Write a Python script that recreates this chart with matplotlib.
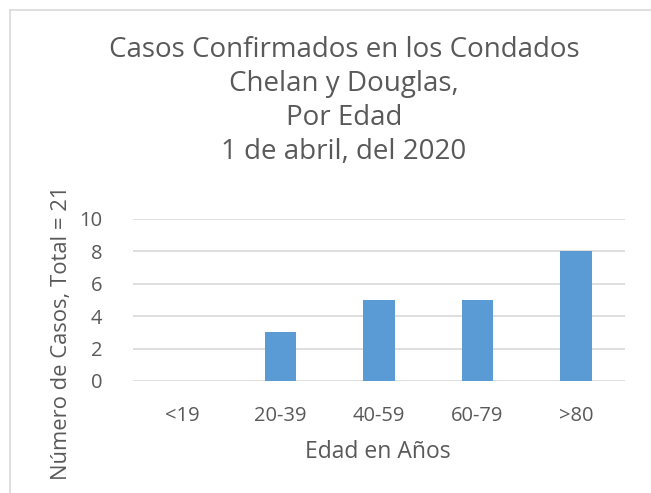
import matplotlib
matplotlib.use("Agg")
import matplotlib.pyplot as plt
from matplotlib.lines import Line2D

categories = ["<19", "20-39", "40-59", "60-79", ">80"]
values = [0, 3, 5, 5, 8]
yticks = [0, 2, 4, 6, 8, 10]
title = "Casos Confirmados en los Condados\nChelan y Douglas,\nPor Edad\n1 de abril, del 2020"
xlabel = "Edad en Años"
ylabel = "Número de Casos, Total = 21"

W, H = 651, 493
fig = plt.figure(figsize=(W / 100, H / 100), dpi=100)
plt.rcParams['font.family'] = ['Open Sans', 'DejaVu Sans']
txt = '#595959'

# axes position in pixels: x 133..625, y (top) 219..381
x0, x1 = 133, 625
ytop, ybot = 219, 381
ax = fig.add_axes([x0 / W, 1 - ybot / H, (x1 - x0) / W, (ybot - ytop) / H])
xs = range(len(categories))
ax.bar(xs, values, width=0.32, color='#5b9bd5', zorder=3)
ax.set_xlim(-0.5, len(categories) - 0.5)
ax.set_ylim(0, 10)
ax.set_yticks(yticks)
ax.set_xticks(list(xs))
ax.set_xticklabels(categories)
ax.grid(axis='y', color='#d9d9d9', linewidth=1.2, zorder=0)
for s in ax.spines.values():
    s.set_visible(False)
ax.tick_params(axis='both', length=0, colors=txt, labelsize=14.5)
ax.tick_params(axis='x', pad=18)
ax.tick_params(axis='y', pad=22)

fig.text(344 / W, 1 - 101 / H, title, ha='center', va='center', fontsize=20,
         color=txt, linespacing=1.3)
fig.text(378 / W, 1 - 452 / H, xlabel, ha='center', va='center', fontsize=16.5, color=txt)
fig.text(62 / W, 1 - 186 / H, ylabel, ha='center', va='top', rotation=90, fontsize=15.8, color=txt)

# outer chart border (partially visible)
fig.add_artist(Line2D([10 / W, 10 / W], [0, 1 - 10 / H], color='#d9d9d9', linewidth=1.2,
                      transform=fig.transFigure))
fig.add_artist(Line2D([10 / W, 1], [1 - 10 / H, 1 - 10 / H], color='#d9d9d9', linewidth=1.2,
                      transform=fig.transFigure))

fig.savefig('out.png', dpi=100)
